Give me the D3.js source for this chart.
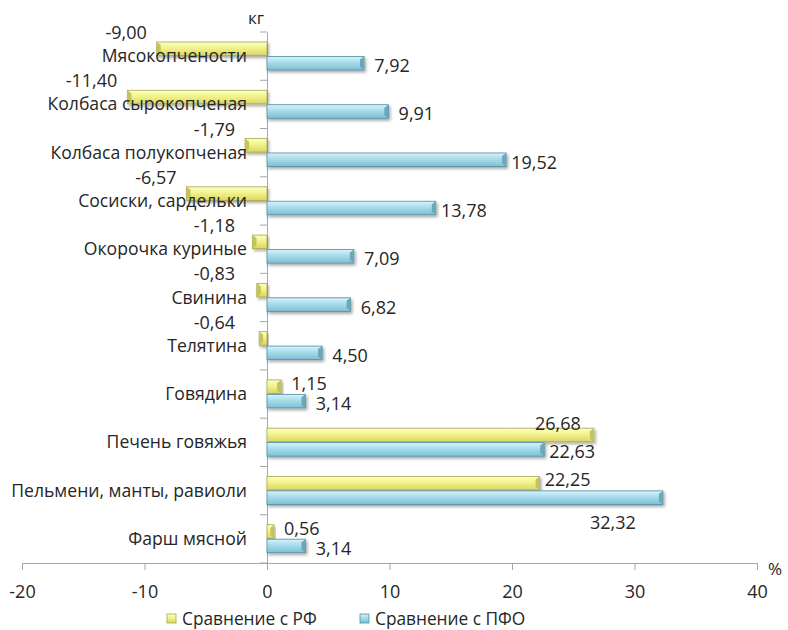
<!DOCTYPE html>
<html><head><meta charset="utf-8">
<script src="https://cdn.jsdelivr.net/npm/d3@7"></script>
<style>
body{margin:0;background:#fff;}
text{font-family:"Open Sans",sans-serif;fill:#262626;}
</style></head><body>
<svg id="c" width="788" height="630"></svg>
<script>
const categories = ["Мясокопчености","Колбаса сырокопченая","Колбаса полукопченая","Сосиски, сардельки","Окорочка куриные","Свинина","Телятина","Говядина","Печень говяжья","Пельмени, манты, равиоли","Фарш мясной"];
const seriesNames = ["Сравнение с РФ","Сравнение с ПФО"];
const valuesRF  = [-9.00,-11.40,-1.79,-6.57,-1.18,-0.83,-0.64,1.15,26.68,22.25,0.56];
const valuesPFO = [7.92,9.91,19.52,13.78,7.09,6.82,4.50,3.14,22.63,32.32,3.14];
const xTicks = [-20,-10,0,10,20,30,40];

const svg = d3.select("#c");
const x = d3.scaleLinear().domain([-20,40]).range([22,757]);
const y = d3.scaleBand().domain(categories).range([32,563]);
const inner = d3.scaleBand().domain(seriesNames).range([10,38]).paddingInner(0.06);
const fmt = v => d3.format(".2f")(v).replace(".", ",").replace("\u2212","-");

const defs = svg.append("defs");
const styles = [
  {top:"#ffffc8", mid:"#f2f28a", bot:"#d6d668", stroke:"#a8a848", cap:"#c4c45a"},
  {top:"#d8f4fc", mid:"#a6dcea", bot:"#7ebfd2", stroke:"#4e8ea0", cap:"#6aa8ba"}
];
styles.forEach((s,i)=>{
  const g = defs.append("linearGradient").attr("id","g"+i).attr("x1",0).attr("y1",0).attr("x2",0).attr("y2",1);
  g.append("stop").attr("offset","0%").attr("stop-color",s.top);
  g.append("stop").attr("offset","45%").attr("stop-color",s.mid);
  g.append("stop").attr("offset","100%").attr("stop-color",s.bot);
});
const f = defs.append("filter").attr("id","sh").attr("x","-10%").attr("y","-50%").attr("width","130%").attr("height","250%");
f.append("feDropShadow").attr("dx",1.5).attr("dy",2).attr("stdDeviation",1.5).attr("flood-color","#000").attr("flood-opacity",0.35);

// axes
const axisColor = "#a6a6a6";
const yAxis = svg.append("g").attr("transform",`translate(${x(0)},0)`)
  .call(d3.axisLeft(y).tickSize(0).tickFormat(""));
yAxis.select(".domain").attr("stroke",axisColor);
const bounds = categories.map(c=>y(c)).concat([563]);
svg.append("g").selectAll("line").data(bounds).join("line")
  .attr("x1",x(0)-7).attr("x2",x(0)).attr("y1",d=>d).attr("y2",d=>d).attr("stroke",axisColor);

const xAxis = svg.append("g").attr("transform","translate(0,563)")
  .call(d3.axisBottom(x).tickValues(xTicks).tickSize(7).tickSizeOuter(0).tickPadding(15)
    .tickFormat(d=>String(d).replace("\u2212","-")));
xAxis.select(".domain").attr("stroke",axisColor);
xAxis.selectAll(".tick line").attr("stroke",axisColor);
xAxis.selectAll(".tick text").attr("font-family","Open Sans").attr("font-size",18).attr("fill","#262626");

// bars
const data = [valuesRF, valuesPFO];
data.forEach((vals,si)=>{
  const s = styles[si];
  const g = svg.append("g");
  vals.forEach((v,i)=>{
    const yy = y(categories[i]) + inner(seriesNames[si]);
    const h = inner.bandwidth();
    const x0 = Math.min(x(0),x(v)), w = Math.abs(x(v)-x(0));
    const bg = g.append("g").attr("filter","url(#sh)");
    bg.append("rect").attr("x",x0).attr("y",yy).attr("width",w).attr("height",h)
      .attr("fill",`url(#g${si})`).attr("stroke",s.stroke).attr("stroke-width",0.8);
    const xe = x(v), dir = v>=0?-1:1, cw = Math.min(4,w/2);
    bg.append("path").attr("d",`M${xe},${yy} L${xe+dir*cw},${yy+3} L${xe+dir*cw},${yy+h-3} L${xe},${yy+h}Z`)
      .attr("fill",s.cap).attr("stroke","none");
  });
});

// category labels
svg.append("g").selectAll("text").data(categories).join("text")
  .attr("x",247).attr("y",d=>y(d)+y.bandwidth()/2+6)
  .attr("text-anchor","end").attr("font-size",17.6).text(d=>d);

// value labels
const place = {"Сравнение с РФ|Печень говяжья":"above","Сравнение с ПФО|Пельмени, манты, равиоли":"below"};
data.forEach((vals,si)=>{
  vals.forEach((v,i)=>{
    const c = categories[i];
    const top = y(c);
    const barMid = top + inner(seriesNames[si]) + inner.bandwidth()/2;
    let lx, ly, anchor="middle";
    const p = place[seriesNames[si]+"|"+c];
    if (v < 0) {
      anchor = "end";
      lx = Math.min(x(v)-10, x(0)-32);
      ly = top + 7;
    } else if (p==="above") {
      lx = x(v)-36; ly = top + 12;
    } else if (p==="below") {
      lx = x(v)-50; ly = top + 63;
    } else {
      lx = x(v)+28; ly = barMid + (si===0? 3 : 9);
    }
    svg.append("text").attr("x",lx).attr("y",ly).attr("text-anchor",anchor)
      .attr("font-size",18).text(fmt(v));
  });
});

// unit labels
svg.append("text").attr("x",256).attr("y",24).attr("text-anchor","middle").attr("font-size",17).text("кг");
svg.append("text").attr("x",775).attr("y",575).attr("text-anchor","middle").attr("font-size",17).text("%");

// legend
const leg = svg.append("g");
const legX = [167,360];
seriesNames.forEach((n,i)=>{
  const lg = leg.append("g").attr("transform",`translate(${legX[i]},614)`);
  lg.append("rect").attr("x",0).attr("y",0).attr("width",9).attr("height",9)
    .attr("fill",`url(#g${i})`).attr("stroke",styles[i].stroke).attr("stroke-width",0.8);
  lg.append("text").attr("x",15).attr("y",11).attr("font-size",17.3).text(n);
});
</script></body></html>
